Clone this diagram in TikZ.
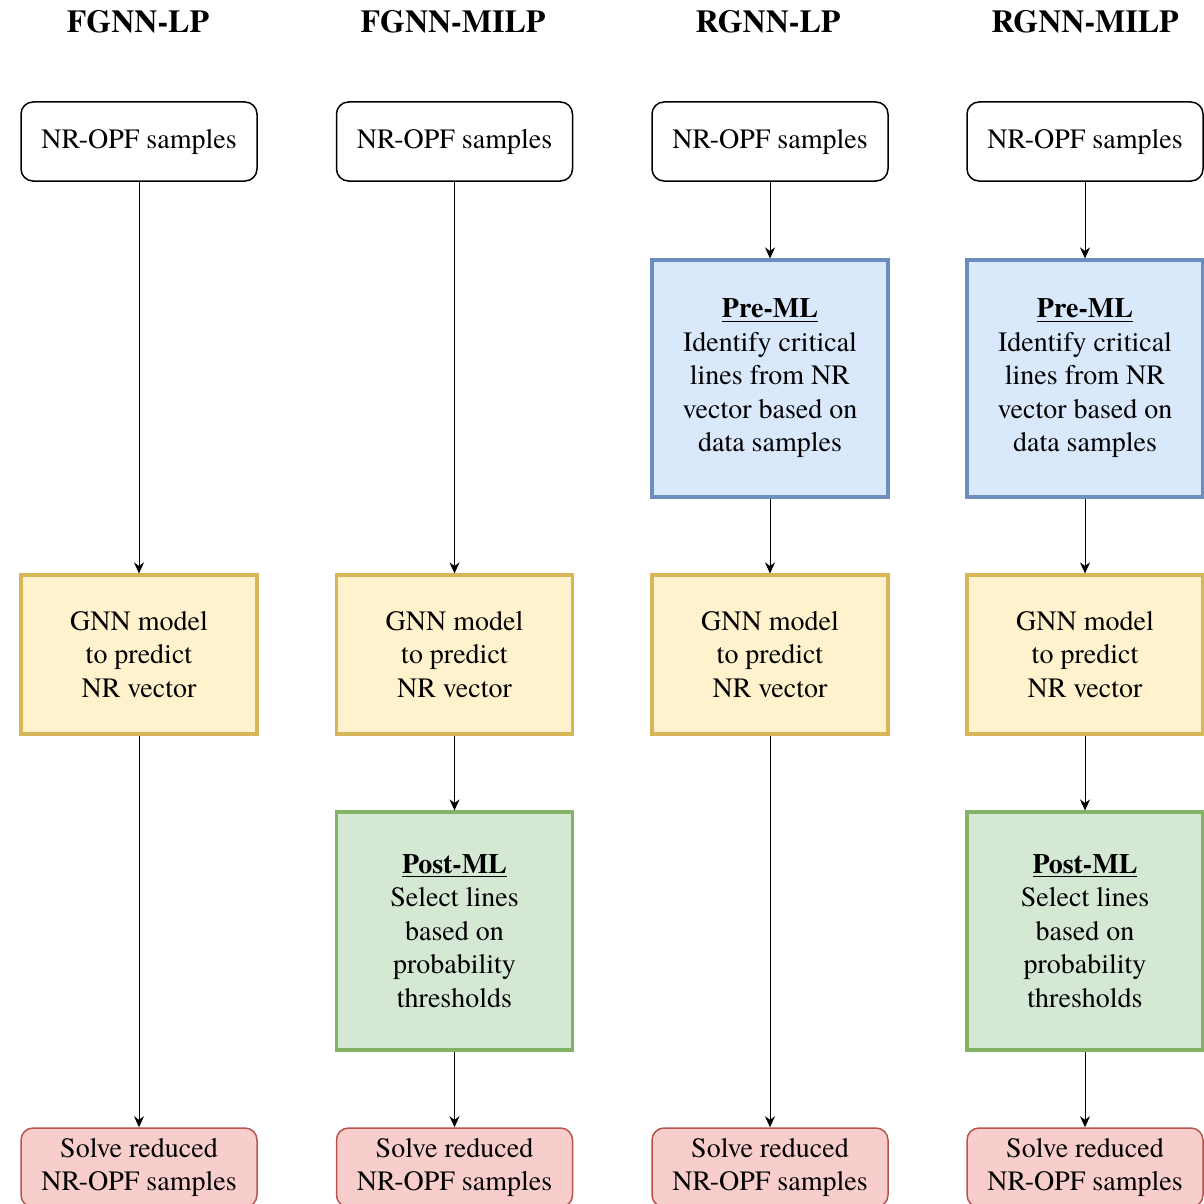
\documentclass[tikz,border=0pt]{standalone}
\usepackage{fontspec}
\setmainfont{texgyretermes}[Extension=.otf, UprightFont=*-regular,
  BoldFont=*-bold, ItalicFont=*-italic, BoldItalicFont=*-bolditalic]
\usetikzlibrary{arrows.meta}
\definecolor{blueFill}{HTML}{DAE8FC}
\definecolor{blueLine}{HTML}{6C8EBF}
\definecolor{yellowFill}{HTML}{FFF2CC}
\definecolor{yellowLine}{HTML}{D6B656}
\definecolor{greenFill}{HTML}{D5E8D4}
\definecolor{greenLine}{HTML}{82B366}
\definecolor{redFill}{HTML}{F8CECC}
\definecolor{redLine}{HTML}{B85450}
\tikzset{
  base/.style={inner sep=0pt, align=center, minimum width=118pt,
    font=\fontsize{14}{16.75}\selectfont},
  title/.style={font=\fontsize{16}{19}\selectfont\bfseries},
  samplebox/.style={base, draw=black, line width=0.75pt, rounded corners=6pt,
    fill=white, minimum height=39.5pt},
  prebox/.style={base, draw=blueLine, fill=blueFill, line width=1.6pt,
    minimum height=118.5pt},
  gnnbox/.style={base, draw=yellowLine, fill=yellowFill, line width=1.6pt,
    minimum height=79.5pt},
  postbox/.style={base, draw=greenLine, fill=greenFill, line width=1.6pt,
    minimum height=119pt},
  solvebox/.style={base, draw=redLine, fill=redFill, line width=0.75pt,
    rounded corners=6pt, minimum height=39.5pt},
  flow/.style={draw=black, line width=0.5pt,
    -{Stealth[length=5.5pt, width=5pt]}}
}
\begin{document}
\begin{tikzpicture}[x=0.5pt, y=-0.5pt]
\useasboundingbox[fill=white] (0,0) rectangle (1204,1204);

% column titles
\node[title] (t1) at (138,22) {FGNN-LP};
\node[title] (t2) at (453,22) {FGNN-MILP};
\node[title] (t3) at (768,22) {RGNN-LP};
\node[title] (t4) at (1085,22) {RGNN-MILP};

% input samples
\node[samplebox] (s1) at (139,141.5) {NR-OPF samples};
\node[samplebox] (s2) at (454.5,141.5) {NR-OPF samples};
\node[samplebox] (s3) at (770,141.5) {NR-OPF samples};
\node[samplebox] (s4) at (1085,141.5) {NR-OPF samples};

% pre-ML stage
\node[prebox] (p3) at (770,378.5) {\underline{\textbf{Pre-ML}}\\Identify critical\\lines from NR\\vector based on\\data samples};
\node[prebox] (p4) at (1085,378.5) {\underline{\textbf{Pre-ML}}\\Identify critical\\lines from NR\\vector based on\\data samples};

% GNN models
\node[gnnbox] (g1) at (139,654.5) {GNN model\\to predict\\NR vector};
\node[gnnbox] (g2) at (454.5,654.5) {GNN model\\to predict\\NR vector};
\node[gnnbox] (g3) at (770,654.5) {GNN model\\to predict\\NR vector};
\node[gnnbox] (g4) at (1085,654.5) {GNN model\\to predict\\NR vector};

% post-ML stage
\node[postbox] (q2) at (454.5,931) {\underline{\textbf{Post-ML}}\\Select lines\\based on\\probability\\thresholds};
\node[postbox] (q4) at (1085,931) {\underline{\textbf{Post-ML}}\\Select lines\\based on\\probability\\thresholds};

% reduced problems
\node[solvebox] (r1) at (139,1167.5) {Solve reduced\\NR-OPF samples};
\node[solvebox] (r2) at (454.5,1167.5) {Solve reduced\\NR-OPF samples};
\node[solvebox] (r3) at (770,1167.5) {Solve reduced\\NR-OPF samples};
\node[solvebox] (r4) at (1085,1167.5) {Solve reduced\\NR-OPF samples};

% connectors
\draw[flow] (s1) -- (g1);
\draw[flow] (g1) -- (r1);
\draw[flow] (s2) -- (g2);
\draw[flow] (g2) -- (q2);
\draw[flow] (q2) -- (r2);
\draw[flow] (s3) -- (p3);
\draw[flow] (p3) -- (g3);
\draw[flow] (g3) -- (r3);
\draw[flow] (s4) -- (p4);
\draw[flow] (p4) -- (g4);
\draw[flow] (g4) -- (q4);
\draw[flow] (q4) -- (r4);
\end{tikzpicture}
\end{document}
